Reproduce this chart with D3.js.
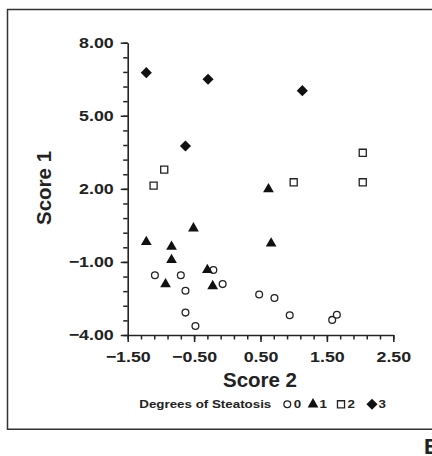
<!DOCTYPE html>
<html>
<head>
<meta charset="utf-8">
<script src="https://cdn.jsdelivr.net/npm/d3@7"></script>
<style>
  body { margin: 0; background: #fff; }
  text { font-family: "Liberation Sans", Arial, sans-serif; font-weight: bold; fill: #222; }
</style>
</head>
<body>
<svg width="432" height="456"></svg>
<script>
// Score 2 (x) / Score 1 (y) by degree of steatosis
const grade0 = [
  [-1.09, -1.55], [-0.70, -1.55], [-0.63, -2.18], [-0.63, -3.08], [-0.48, -3.63],
  [-0.21, -1.33], [-0.07, -1.91], [0.48, -2.34], [0.71, -2.48], [0.94, -3.19],
  [1.58, -3.38], [1.65, -3.17]
];
const grade1 = [
  [-1.22, -0.18], [-0.84, -0.37], [-0.84, -0.92], [-0.51, 0.38], [-0.93, -1.91],
  [-0.30, -1.33], [-0.22, -1.99], [0.62, 1.99], [0.66, -0.24]
];
const grade2 = [
  [-1.11, 2.13], [-0.95, 2.79], [1.00, 2.27], [2.04, 3.48], [2.04, 2.27]
];
const grade3 = [
  [-1.22, 6.77], [-0.29, 6.50], [1.13, 6.03], [-0.63, 3.76]
];
const xMajor = [-1.5, -0.5, 0.5, 1.5, 2.5];
const yMajor = [-4, -1, 2, 5, 8];
const legendLabels = ["0", "1", "2", "3"];

const svg = d3.select("svg");
const stretch = 1.15;

const x = d3.scaleLinear().domain([-1.5, 2.5]).range([127.7, 393.3]);
const y = d3.scaleLinear().domain([-4, 8]).range([335, 42.7]);

// outer frame (right side runs off the picture)
svg.append("path")
  .attr("d", "M440,9.5 H7.5 V429.3 H440")
  .attr("fill", "none")
  .attr("stroke", "#333")
  .attr("stroke-width", 1.5);

const xMinor = d3.range(0, 21).map(i => -1.5 + i * 0.2);
const yMinor = d3.range(0, 21).map(i => -4 + i * 0.6);

function styleAxis(g) {
  g.selectAll("path, line").attr("stroke", "#222").attr("stroke-width", 1.5);
  g.select(".domain").attr("stroke-width", 1.6);
}

svg.append("g")
  .attr("transform", "translate(0,335)")
  .call(d3.axisBottom(x).tickValues(xMinor).tickSize(4.5).tickSizeOuter(0).tickFormat(""))
  .call(styleAxis);
const gx = svg.append("g")
  .attr("transform", "translate(0,335)")
  .call(d3.axisBottom(x).tickValues(xMajor).tickSize(7).tickSizeOuter(0).tickPadding(9)
    .tickFormat(d => d3.format(".2f")(d).replace("-", "\u2013")))
  .call(styleAxis);
gx.select(".domain").remove();
gx.selectAll("text")
  .attr("font-size", 15.5).attr("font-family", null).attr("fill", null)
  .attr("transform", `scale(${stretch},1)`);

svg.append("g")
  .attr("transform", "translate(127.7,0)")
  .call(d3.axisLeft(y).tickValues(yMinor).tickSize(4.5).tickSizeOuter(0).tickFormat(""))
  .call(styleAxis);
const gy = svg.append("g")
  .attr("transform", "translate(127.7,0)")
  .call(d3.axisLeft(y).tickValues(yMajor).tickSize(7).tickSizeOuter(0).tickPadding(7)
    .tickFormat(d => d3.format(".2f")(d).replace("-", "\u2013")))
  .call(styleAxis);
gy.select(".domain").remove();
gy.selectAll("text")
  .attr("font-size", 15.5).attr("font-family", null).attr("fill", null)
  .attr("x", -14 / stretch)
  .attr("transform", `scale(${stretch},1)`);

// axis titles
svg.append("text")
  .attr("x", 260).attr("y", 387)
  .attr("text-anchor", "middle")
  .attr("font-size", 20.5)
  .text("Score 2");
svg.append("text")
  .attr("transform", "translate(51,188) rotate(-90)")
  .attr("text-anchor", "middle")
  .attr("font-size", 20.5)
  .text("Score 1");

// marker shapes
const shapes = [
  { data: grade0, sym: d3.symbol(d3.symbolCircle, 36), fill: "#fff", stroke: "#222", rot: 0 },
  { data: grade1, sym: d3.symbol(d3.symbolTriangle, 50), fill: "#111", stroke: "none", rot: 0 },
  { data: grade2, sym: d3.symbol(d3.symbolSquare, 50), fill: "#fff", stroke: "#222", rot: 0 },
  { data: grade3, sym: d3.symbol(d3.symbolSquare, 62), fill: "#111", stroke: "none", rot: 45 }
];

shapes.forEach(s => {
  svg.append("g").selectAll("path")
    .data(s.data)
    .join("path")
    .attr("d", s.sym)
    .attr("transform", d => `translate(${x(d[0])},${y(d[1])}) rotate(${s.rot})`)
    .attr("fill", s.fill)
    .attr("stroke", s.stroke)
    .attr("stroke-width", 1.3);
});

// legend
const legend = svg.append("g").attr("transform", "translate(0,408.3)");
legend.append("text")
  .attr("x", 139.3 / stretch).attr("font-size", 11.6)
  .attr("transform", `scale(${stretch},1)`)
  .text("Degrees of Steatosis");
const legendX = [287.3, 313, 341, 372];
shapes.forEach((s, i) => {
  legend.append("path")
    .attr("d", s.sym)
    .attr("transform", `translate(${legendX[i]},-4) rotate(${s.rot})`)
    .attr("fill", s.fill)
    .attr("stroke", s.stroke)
    .attr("stroke-width", 1.3);
  legend.append("text")
    .attr("x", (legendX[i] + 6.5) / stretch).attr("font-size", 11.6)
    .attr("transform", `scale(${stretch},1)`)
    .text(legendLabels[i]);
});

// panel letter
svg.append("text")
  .attr("x", 424).attr("y", 454)
  .attr("font-size", 22)
  .text("B");
</script>
</body>
</html>
